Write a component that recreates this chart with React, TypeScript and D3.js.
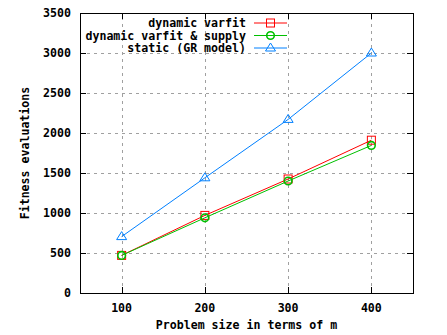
import React from 'react';
import * as d3 from 'd3';

const problemSizes = [100, 200, 300, 400];
const varfit = [470, 970, 1425, 1910];
const varfitSupply = [470, 940, 1400, 1845];
const staticGR = [705, 1440, 2170, 3000];

const xTicks = [100, 200, 300, 400];
const yTicks = [0, 500, 1000, 1500, 2000, 2500, 3000, 3500];

const seriesNames = ['dynamic varfit', 'dynamic varfit & supply', 'static (GR model)'];
const seriesColors = ['#ff0000', '#00c000', '#0080ff'];

const width = 447;
const height = 335;
const margin = { top: 13, right: 34, bottom: 42, left: 80 };
const font = '"DejaVu Sans Mono", monospace';
const fs = 11.6;

const Marker = ({ kind, x, y, color }: { kind: number; x: number; y: number; color: string }) => {
  if (kind === 0) {
    return <rect x={x - 4} y={y - 4} width={8} height={8} fill="none" stroke={color} strokeWidth={1} />;
  }
  if (kind === 1) {
    return <circle cx={x} cy={y} r={3.8} fill="none" stroke={color} strokeWidth={1.6} />;
  }
  return (
    <path
      d={`M${x},${y - 5}L${x + 5},${y + 3}L${x - 5},${y + 3}Z`}
      fill="none"
      stroke={color}
      strokeWidth={1}
    />
  );
};

export default function App() {
  const x0 = margin.left;
  const x1 = width - margin.right;
  const y0 = height - margin.bottom;
  const y1 = margin.top;

  const x = d3.scaleLinear().domain([50, 450]).range([x0, x1]);
  const y = d3.scaleLinear().domain([0, 3500]).range([y0, y1]);

  const allSeries = [varfit, varfitSupply, staticGR];
  const line = d3
    .line<number>()
    .x((_, i) => x(problemSizes[i]))
    .y((d) => y(d));

  return (
    <svg width={width} height={height} style={{ position: 'absolute', left: 0, top: 0, background: '#fff' }}>
      {/* grid */}
      <g stroke="#a0a0a0" strokeDasharray="3,4" strokeWidth={1}>
        {yTicks.slice(1, -1).map((t) => (
          <line key={'gy' + t} x1={x0} x2={x1} y1={Math.round(y(t)) + 0.5} y2={Math.round(y(t)) + 0.5} />
        ))}
        {xTicks.map((t) => (
          <line key={'gx' + t} x1={Math.round(x(t)) + 0.5} x2={Math.round(x(t)) + 0.5} y1={y0} y2={y1} />
        ))}
      </g>

      {/* ticks, mirrored */}
      <g stroke="#000" strokeWidth={1}>
        {yTicks.map((t) => {
          const yy = Math.round(y(t)) + 0.5;
          return (
            <g key={'ty' + t}>
              <line x1={x0} x2={x0 + 6} y1={yy} y2={yy} />
              <line x1={x1} x2={x1 - 6} y1={yy} y2={yy} />
            </g>
          );
        })}
        {xTicks.map((t) => {
          const xx = Math.round(x(t)) + 0.5;
          return (
            <g key={'tx' + t}>
              <line x1={xx} x2={xx} y1={y0} y2={y0 - 6} />
              <line x1={xx} x2={xx} y1={y1} y2={y1 + 6} />
            </g>
          );
        })}
      </g>

      {/* tick labels */}
      <g fontFamily={font} fontWeight="bold" fontSize={fs} fill="#000">
        {yTicks.map((t) => (
          <text key={'ly' + t} x={x0 - 9} y={y(t)} dy="0.35em" textAnchor="end">
            {t}
          </text>
        ))}
        {xTicks.map((t) => (
          <text key={'lx' + t} x={x(t)} y={y0 + 19} textAnchor="middle">
            {t}
          </text>
        ))}
        <text x={(x0 + x1) / 2} y={height - 6} textAnchor="middle">
          Problem size in terms of m
        </text>
        <text transform={`translate(29,${(y0 + y1) / 2}) rotate(-90)`} textAnchor="middle">
          Fitness evaluations
        </text>
      </g>

      {/* series */}
      {allSeries.map((s, k) => (
        <g key={'s' + k}>
          <path d={line(s) || ''} fill="none" stroke={seriesColors[k]} strokeWidth={1} />
          {s.map((v, i) => (
            <Marker key={i} kind={k} x={x(problemSizes[i])} y={y(v)} color={seriesColors[k]} />
          ))}
        </g>
      ))}

      {/* legend */}
      <g fontFamily={font} fontWeight="bold" fontSize={fs} fill="#000">
        {seriesNames.map((name, k) => {
          const ly = 23 + k * 12.5;
          return (
            <g key={'lg' + k}>
              <text x={246} y={ly} dy="0.35em" textAnchor="end">
                {name}
              </text>
              <line x1={254} x2={287} y1={ly} y2={ly} stroke={seriesColors[k]} strokeWidth={1} />
              <Marker kind={k} x={270.5} y={ly} color={seriesColors[k]} />
            </g>
          );
        })}
      </g>

      {/* border */}
      <rect x={x0 + 0.5} y={y1 + 0.5} width={x1 - x0} height={y0 - y1} fill="none" stroke="#000" strokeWidth={1} />
    </svg>
  );
}
